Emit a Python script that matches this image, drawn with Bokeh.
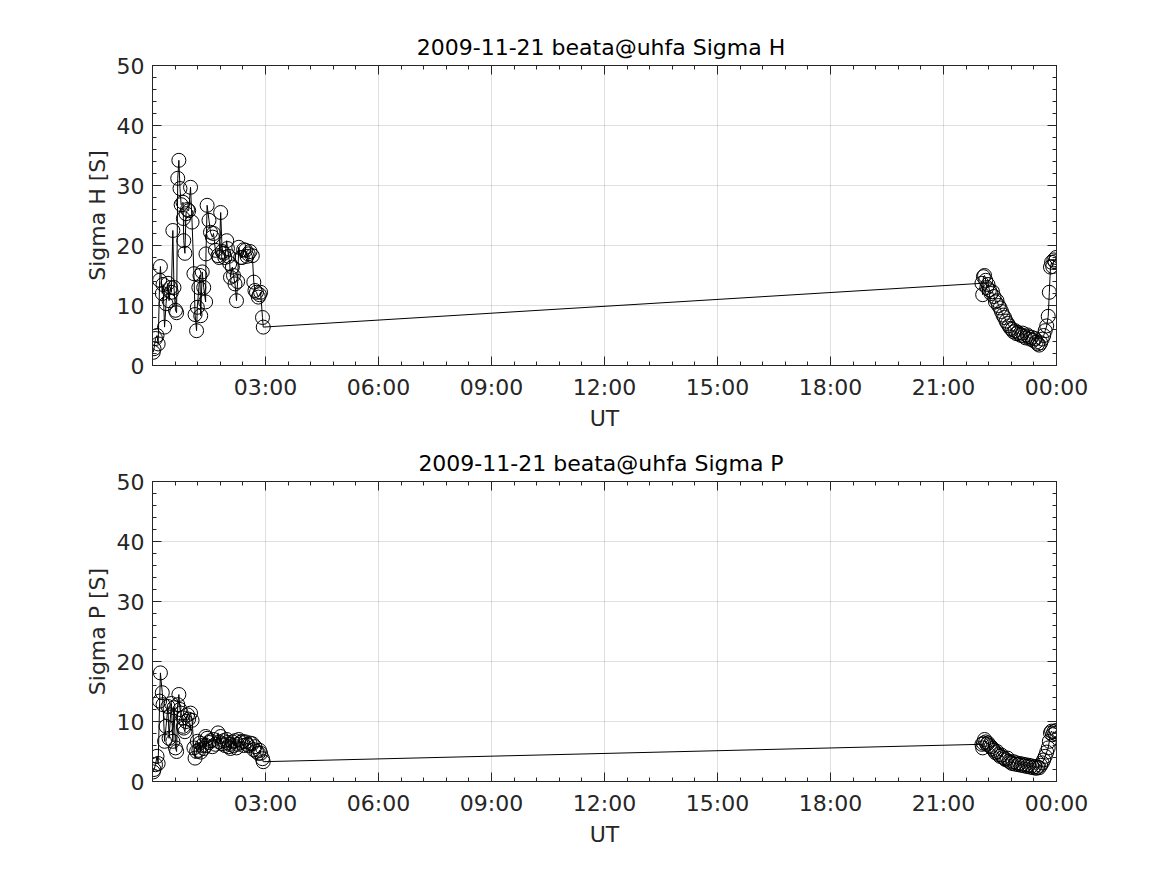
from bokeh.plotting import figure
from bokeh.models import FixedTicker, LinearAxis, Range1d, ColumnDataSource
from bokeh.layouts import column
from bokeh.embed import file_html
from bokeh.resources import INLINE

# ---- data (UT hours, conductances in S) ----
times_am = [0.02, 0.04, 0.08, 0.12, 0.15, 0.19, 0.21, 0.26, 0.28, 0.32,
            0.36, 0.41, 0.44, 0.48, 0.50, 0.54, 0.57, 0.61, 0.64, 0.67,
            0.70, 0.73, 0.76, 0.81, 0.82, 0.83, 0.86, 0.89, 0.93, 0.96,
            1.01, 1.05, 1.10, 1.13, 1.17, 1.19, 1.23, 1.26, 1.28, 1.32,
            1.36, 1.41, 1.42, 1.45, 1.50, 1.54, 1.59, 1.62, 1.67, 1.74,
            1.77, 1.81, 1.85, 1.89, 1.92, 1.97, 1.99, 2.02, 2.05, 2.07,
            2.12, 2.15, 2.19, 2.23, 2.26, 2.29, 2.34, 2.38, 2.42, 2.47,
            2.51, 2.54, 2.59, 2.65, 2.69, 2.72, 2.76, 2.81, 2.84, 2.87,
            2.92, 2.94]
sigma_h_am = [2.2, 2.8, 4.5, 5.0, 3.6, 14.2, 16.5, 12.0, 13.5, 6.4,
              10.3, 13.7, 10.8, 13.0, 12.2, 22.5, 13.0, 9.2, 8.8, 31.2,
              34.2, 29.5, 26.8, 27.2, 24.5, 20.8, 18.7, 25.3, 26.0, 25.8,
              29.7, 23.9, 15.3, 8.5, 5.8, 9.7, 13.0, 15.0, 8.3, 15.6,
              13.0, 10.6, 18.6, 26.7, 24.2, 22.2, 21.4, 22.0, 19.2, 18.3,
              18.0, 25.5, 19.0, 18.7, 18.0, 20.8, 19.5, 18.2, 17.0, 14.7,
              16.4, 15.0, 13.6, 10.8, 14.0, 19.7, 18.0, 18.0, 19.3, 19.2,
              18.2, 18.6, 19.0, 18.3, 13.9, 12.5, 12.2, 11.4, 11.8, 12.2,
              8.0, 6.4]
sigma_p_am = [1.6, 2.0, 2.8, 4.2, 3.0, 13.4, 18.1, 14.8, 12.8, 6.7,
              9.2, 12.5, 7.2, 11.1, 13.0, 6.7, 12.3, 5.6, 5.0, 12.8,
              14.5, 12.0, 11.4, 10.6, 9.2, 8.9, 8.3, 10.0, 11.1, 10.4,
              11.4, 10.2, 5.6, 3.9, 5.0, 6.7, 5.2, 6.4, 4.9, 6.0,
              5.5, 7.5, 6.0, 7.2, 6.5, 6.8, 5.8, 7.0, 6.2, 8.1,
              6.6, 7.5, 6.3, 6.8, 6.0, 7.0, 6.5, 5.8, 6.2, 5.5,
              6.6, 6.0, 6.8, 5.6, 6.2, 7.0, 6.5, 6.7, 6.0, 6.6,
              6.2, 6.0, 6.4, 6.3, 5.3, 5.8, 5.0, 4.7, 5.2, 4.7,
              3.8, 3.3]
times_pm = [22.02, 22.04, 22.06, 22.09, 22.12, 22.15, 22.18, 22.22, 22.26, 22.30,
            22.34, 22.38, 22.42, 22.46, 22.50, 22.54, 22.58, 22.62, 22.66, 22.70,
            22.74, 22.78, 22.82, 22.86, 22.90, 22.94, 22.98, 23.02, 23.06, 23.10,
            23.14, 23.18, 23.22, 23.26, 23.30, 23.34, 23.38, 23.42, 23.46, 23.50,
            23.54, 23.58, 23.62, 23.66, 23.70, 23.74, 23.78, 23.81, 23.84, 23.87,
            23.90, 23.93, 23.96, 23.99]
sigma_h_pm = [13.7, 11.8, 14.8, 15.0, 14.2, 13.0, 13.5, 12.6, 12.0, 12.3,
              11.5, 10.6, 10.8, 10.0, 9.6, 9.0, 8.4, 8.0, 7.4, 7.0,
              6.6, 6.2, 6.0, 5.6, 5.8, 5.3, 5.5, 5.2, 5.0, 5.4,
              4.9, 4.6, 5.1, 4.8, 4.4, 4.7, 4.2, 4.5, 3.9, 3.6,
              3.4, 3.8, 4.4, 5.0, 5.8, 6.6, 8.2, 12.2, 16.4, 17.2,
              16.5, 17.6, 17.3, 18.0]
sigma_p_pm = [6.2, 5.6, 6.4, 7.0, 6.6, 6.2, 6.4, 6.0, 5.8, 5.5,
              5.2, 4.8, 5.0, 4.5, 4.2, 4.4, 4.0, 3.8, 3.6, 3.9,
              3.4, 3.2, 3.0, 3.3, 2.9, 3.1, 2.8, 3.0, 2.7, 2.9,
              2.6, 2.8, 2.5, 2.7, 2.4, 2.6, 2.3, 2.5, 2.2, 2.4,
              2.3, 2.7, 3.1, 3.6, 4.2, 4.9, 5.6, 6.7, 8.1, 8.4,
              7.8, 8.3, 8.0, 8.5]

x_ticks = [3, 6, 9, 12, 15, 18, 21, 24]
x_tick_labels = ["03:00", "06:00", "09:00", "12:00", "15:00", "18:00", "21:00", "00:00"]
y_ticks = [0, 10, 20, 30, 40, 50]

titles = ["2009-11-21  beata@uhfa Sigma H", "2009-11-21  beata@uhfa Sigma P"]
ylabels = ["Sigma H [S]", "Sigma P [S]"]

FONT = "DejaVu Sans"
AX = "#262626"

x_minor = [i * 0.6 for i in range(41)]
y_minor = list(range(0, 51, 2))


def style_axis(ax):
    ax.axis_line_color = AX
    ax.axis_line_width = 1
    ax.major_tick_line_color = AX
    ax.minor_tick_line_color = AX
    ax.major_tick_in = 9
    ax.major_tick_out = 0
    ax.minor_tick_in = 4
    ax.minor_tick_out = 0
    ax.major_label_text_font = FONT
    ax.major_label_text_color = AX
    ax.major_label_text_font_size = "22px"
    ax.axis_label_text_font = FONT
    ax.axis_label_text_color = AX
    ax.axis_label_text_font_style = "normal"
    ax.axis_label_text_font_size = "22px"


def mirror_axis(ticker, ticks):
    ax = LinearAxis(ticker=ticker, major_label_overrides={t: "" for t in ticks})
    style_axis(ax)
    ax.major_label_standoff = 0
    return ax


def make_panel(title, ylabel, yvals, top_border):
    times = times_am + times_pm
    src = ColumnDataSource(dict(t=times, v=yvals))
    bottom = 69
    p = figure(width=1156, height=top_border + 300 + bottom,
               x_range=Range1d(0, 24), y_range=Range1d(0, 50),
               output_backend="svg", toolbar_location=None,
               min_border_left=152, min_border_right=100,
               min_border_top=top_border, min_border_bottom=bottom,
               x_axis_location=None, y_axis_location=None)
    p.title.text = title
    p.title.align = "center"
    p.title.text_font = FONT
    p.title.text_font_size = "22px"
    p.title.text_font_style = "normal"
    p.title.text_color = "black"
    p.title.standoff = 12
    p.outline_line_color = AX

    xt = FixedTicker(ticks=x_ticks, minor_ticks=x_minor)
    yt = FixedTicker(ticks=y_ticks, minor_ticks=y_minor)
    overrides = {t: lab for t, lab in zip(x_ticks, x_tick_labels)}

    xb = LinearAxis(ticker=xt, axis_label="UT", major_label_overrides=overrides)
    style_axis(xb)
    xb.major_label_standoff = 9
    xb.axis_label_standoff = 3
    p.add_layout(xb, "below")
    p.add_layout(mirror_axis(xt, x_ticks), "above")

    yl = LinearAxis(ticker=yt, axis_label=ylabel)
    style_axis(yl)
    yl.major_label_standoff = 8
    yl.axis_label_standoff = 4
    p.add_layout(yl, "left")
    p.add_layout(mirror_axis(yt, y_ticks), "right")

    p.xgrid.ticker = xt
    p.ygrid.ticker = yt
    p.xgrid.grid_line_color = AX
    p.xgrid.grid_line_alpha = 0.15
    p.ygrid.grid_line_color = AX
    p.ygrid.grid_line_alpha = 0.15

    p.line("t", "v", source=src, line_color="black", line_width=1)
    p.scatter("t", "v", source=src, marker="circle", size=14,
              fill_color=None, line_color="black", line_width=1)
    return p


p1 = make_panel(titles[0], ylabels[0], sigma_h_am + sigma_h_pm, 65)
p2 = make_panel(titles[1], ylabels[1], sigma_p_am + sigma_p_pm, 47)
layout = column(p1, p2, spacing=0)

open("out.html", "w").write(file_html(layout, INLINE))
